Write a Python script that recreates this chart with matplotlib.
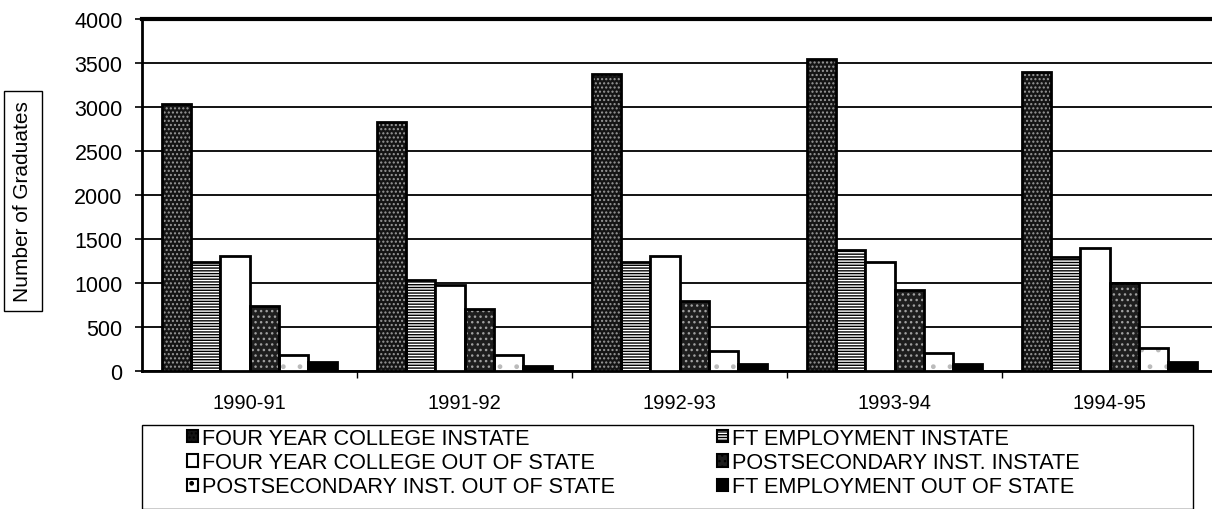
import numpy as np
import matplotlib
matplotlib.use('Agg')
import matplotlib.pyplot as plt
from matplotlib.patches import Rectangle

plt.rcParams['font.family'] = ['Liberation Sans', 'DejaVu Sans']
plt.rcParams['hatch.linewidth'] = 1.0

YEARS = ["1990-91", "1991-92", "1992-93", "1993-94", "1994-95"]

FOUR_YR_INSTATE = [3030, 2830, 3375, 3550, 3395]
FT_EMP_INSTATE = [1235, 1035, 1240, 1375, 1300]
FOUR_YR_OUT = [1305, 980, 1310, 1235, 1395]
POST_INSTATE = [740, 705, 790, 920, 1000]
POST_OUT = [180, 185, 225, 200, 260]
FT_EMP_OUT = [105, 60, 85, 85, 100]

SERIES = [
    ("FOUR YEAR COLLEGE INSTATE", FOUR_YR_INSTATE),
    ("FT EMPLOYMENT INSTATE", FT_EMP_INSTATE),
    ("FOUR YEAR COLLEGE OUT OF STATE", FOUR_YR_OUT),
    ("POSTSECONDARY INST. INSTATE", POST_INSTATE),
    ("POSTSECONDARY INST. OUT OF STATE", POST_OUT),
    ("FT EMPLOYMENT OUT OF STATE", FT_EMP_OUT),
]

# face colour, hatch, hatch colour
STYLES = [
    ("#141414", "....", "#9a9a9a"),
    ("white", "------", "black"),
    ("white", None, None),
    ("#1e1e1e", "...", "#a0a0a0"),
    ("white", ".", "#bbbbbb"),
    ("black", None, None),
]

fig = plt.figure(figsize=(12.12, 5.10), dpi=100)
ax = fig.add_axes([142 / 1212, 1 - 372 / 510, 1075 / 1212, 352 / 510])

x = np.arange(len(YEARS))
w = 0.1364
handles = []
for k, ((label, vals), (fc, hatch, hc)) in enumerate(zip(SERIES, STYLES)):
    pos = x + (k - 2.5) * w
    if hatch:
        ax.bar(pos, vals, w, color=fc, hatch=hatch, edgecolor=hc,
               linewidth=0, zorder=3)
    ax.bar(pos, vals, w, facecolor='none' if hatch else fc,
           edgecolor='black', linewidth=2, zorder=4)
    handles.append(Rectangle((0, 0), 1, 1, facecolor=fc, hatch=hatch,
                             edgecolor='black', linewidth=1.5))

ax.set_xlim(-0.5, 4.5)
ax.set_ylim(0, 4000)
ax.set_yticks(np.arange(0, 4001, 500))
ax.yaxis.grid(True, color='black', linewidth=1.3)
ax.set_axisbelow(True)
ax.tick_params(axis='y', direction='out', length=5, width=1.2,
               labelsize=15.5, pad=9)
ax.set_xticks(x)
ax.set_xticklabels(YEARS)
ax.tick_params(axis='x', length=0, labelsize=14.5, pad=16)
ax.set_xticks(np.arange(0.5, 4.5, 1), minor=True)
ax.tick_params(axis='x', which='minor', direction='out', length=5, width=1)

ax.spines['right'].set_visible(False)
ax.spines['top'].set_linewidth(3)
ax.spines['left'].set_linewidth(2)
ax.spines['bottom'].set_linewidth(2)

ax.set_ylabel("Number of Graduates", fontsize=15,
              bbox=dict(boxstyle='square,pad=0.45', fc='white', ec='black', lw=1))
ax.yaxis.set_label_coords(-0.102, 0.483)

# legend frame
fig.patches.append(Rectangle((142 / 1212, 0.0), (1193 - 142) / 1212, 1 - 426 / 510,
                             transform=fig.transFigure, fill=False,
                             edgecolor='black', linewidth=1))

order = [0, 2, 4, 1, 3, 5]
fig.legend([handles[i] for i in order], [SERIES[i][0] for i in order],
           loc='upper left', bbox_to_anchor=(187 / 1212, 1 - 429 / 510),
           ncol=2, frameon=False, fontsize=15.6, handlelength=0.5,
           handleheight=0.5, handletextpad=0.2, columnspacing=4.7,
           labelspacing=0.15, borderpad=0, borderaxespad=0)

fig.savefig("out.png", dpi=100)
